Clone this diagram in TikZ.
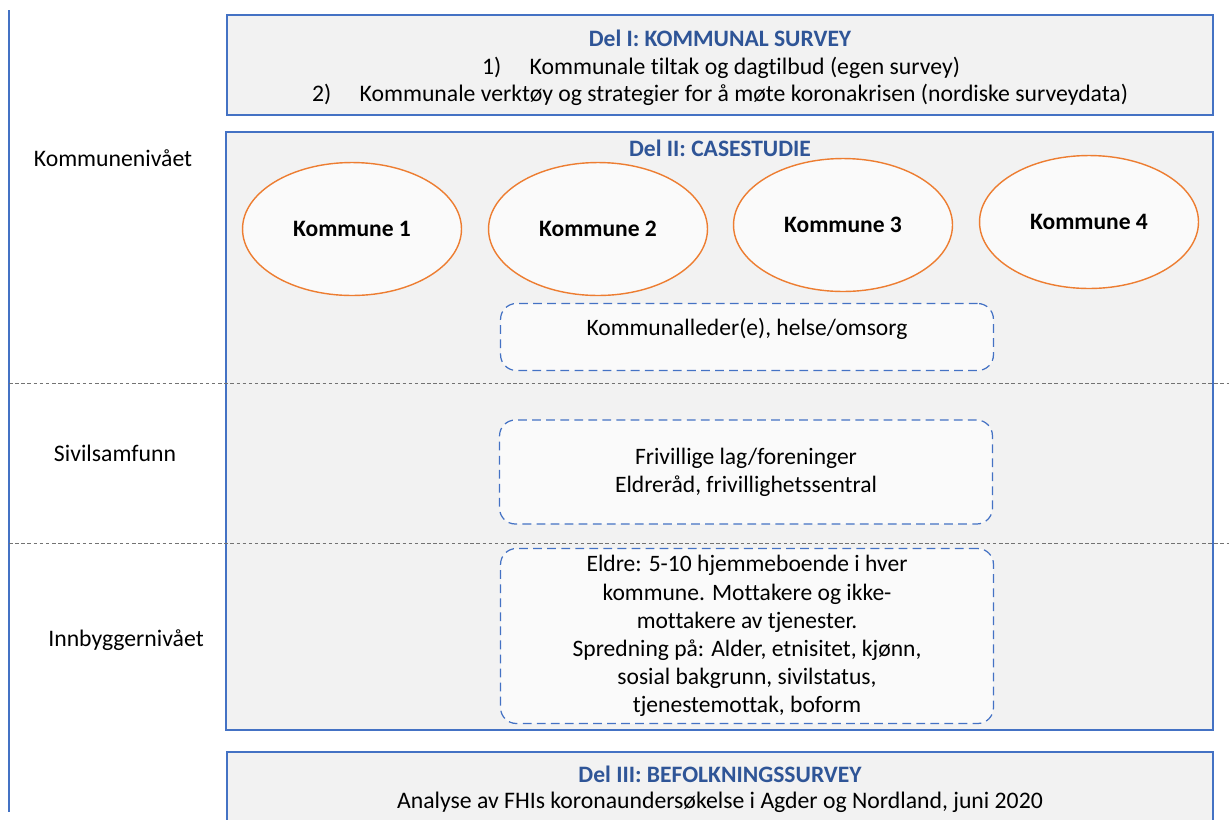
\documentclass[tikz,border=0pt]{standalone}
\usepackage{fontspec}
\setmainfont[Ligatures=NoCommon]{Carlito}
\usepackage{tikz}
\usetikzlibrary{positioning,
                shapes.geometric}
\definecolor{frameblue}{HTML}{4472C4}
\definecolor{titleblue}{HTML}{2F5597}
\definecolor{kommorange}{HTML}{ED7D31}
\definecolor{panelgray}{HTML}{F2F2F2}
\definecolor{innerwhite}{HTML}{FAFAFA}

\tikzset{
  panel/.style={draw=frameblue, line width=0.9pt, fill=panelgray},
  partitle/.style={font=\bfseries\fontsize{13.4}{16}\selectfont, text=titleblue, inner sep=0pt},
  bodytext/.style={font=\fontsize{13.5}{16}\selectfont, align=center, inner sep=0pt},
  kommune/.style={ellipse, draw=kommorange, line width=0.8pt, fill=innerwhite,
                  minimum width=4.38cm, minimum height=2.66cm,
                  font=\bfseries\fontsize{13.4}{16}\selectfont},
  actorbox/.style={draw=frameblue, dash pattern=on 5pt off 3pt, rounded corners=9pt,
                   fill=innerwhite, line width=0.7pt, minimum width=9.86cm,
                   align=center, font=\fontsize{13.4}{16}\selectfont},
  levelline/.style={black!55, dash pattern=on 2pt off 1.5pt, line width=0.4pt},
}

\begin{document}
\begin{tikzpicture}[x=0.02cm, y=-0.02cm]
\useasboundingbox (0,0) rectangle (1229,819);
\clip (0,0) rectangle (1229,819);

% left axis
\draw[frameblue, line width=0.6pt] (9,10) -- (9,812);

% panels
\draw[panel] (227,15) rectangle (1213,115);
\draw[panel] (226,132) rectangle (1213,730);
\draw[panel] (227,830) -- (227,752) -- (1213,752) -- (1213,830);

% level separators
\foreach \y in {383,543}
  \draw[levelline] (9,\y) -- (1229,\y);

% levels
\node[bodytext] (kommniva) at (113,158) {Kommunenivået};
\node[bodytext] (sivil) at (115,453) {Sivilsamfunn};
\node[bodytext] (innbygger) at (126,640) {Innbyggernivået};

% Del I
\node[partitle] (del1) at (720,38) {Del I: KOMMUNAL SURVEY};
\node[bodytext] (del1a) at (721,68) {1)\hspace{1.2em}Kommunale tiltak og dagtilbud (egen survey)};
\node[bodytext] (del1b) at (720,95) {2)\hspace{1.2em}Kommunale verktøy og strategier for å møte koronakrisen (nordiske surveydata)};

% Del II
\node[partitle] (del2) at (720,148) {Del II: CASESTUDIE};
\foreach \i/\x/\y in {1/352/229, 2/598/229, 3/843/225, 4/1089/222}
  \node[kommune] (k\i) at (\x,\y) {Kommune \i};

\node[actorbox, minimum height=1.34cm, text depth=0.4cm] (leder) at (747,337) {Kommunalleder(e), helse/omsorg};
\node[actorbox, minimum height=2.08cm] (frivillig) at (746,472)
  {Frivillige lag/foreninger\\Eldreråd, frivillighetssentral};
\node[actorbox, minimum height=3.5cm] (eldre) at (747,636)
  {Eldre: 5-10 hjemmeboende i hver\\kommune. Mottakere og ikke-\\mottakere av tjenester.\\
   Spredning på: Alder, etnisitet, kjønn,\\sosial bakgrunn, sivilstatus,\\tjenestemottak, boform};

% Del III
\node[partitle] (del3) at (720,774) {Del III: BEFOLKNINGSSURVEY};
\node[bodytext] (del3a) at (720,802) {Analyse av FHIs koronaundersøkelse i Agder og Nordland, juni 2020};
\end{tikzpicture}
\end{document}
